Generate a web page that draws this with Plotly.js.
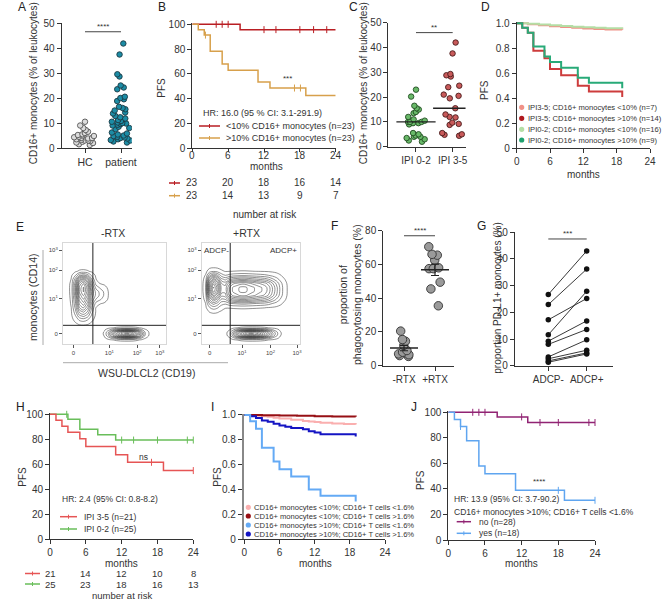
<!DOCTYPE html>
<html>
<head>
<meta charset="utf-8">
<script src="https://cdn.plot.ly/plotly-3.0.1.min.js"></script>
<style>
html, body { margin: 0; padding: 0; background: #ffffff; }
#chart { width: 669px; height: 601px; }
</style>
</head>
<body>
<div id="chart"></div>
<script>
// ================= DATA =================
// Panel A
const aCategories = ['HC', 'patient'];
const aHC = [10.5, 9, 8, 7.2, 6.5, 6, 5.5, 5.2, 5, 4.8, 4.5, 4.3, 4, 4, 3.8, 3.5, 3.3, 3, 3, 2.8, 2.5, 2.2, 2, 1.5, 1.2];
const aPatient = [41.8, 37.4, 29.5, 28.6, 25, 24.2, 23.5, 20.5, 20, 19.5, 18.8, 16.5, 16, 15.5, 15, 14.2, 13.8, 12.8, 12.3, 11.8, 11.2, 10.8, 10.5, 10.2, 10, 9.8, 9.6, 9.3, 9, 8.5, 8, 7.5, 6.2, 5.8, 5.4, 5, 4.8, 4.5, 4.2, 4, 3.8, 3.5, 3.2, 3, 2.6, 2.2];
const aSignif = {text: '****', y: 46.5};
const aYTitle = 'CD16+ monocytes (% of leukocytes)';

// Panel B
const kmTicks = [0, 6, 12, 18, 24];
const bLowTime = [0, 8, 24];
const bLowSurv = [100, 95.7, 95.7];
const bLowCensor = [4, 5, 6, 12, 14, 18, 20.3, 22.5];
const bHighTime = [0, 1, 2, 3, 5, 6, 11, 13, 19, 24];
const bHighSurv = [100, 95.7, 91.3, 78.3, 68, 63, 53.4, 48.6, 42.5, 42.5];
const bHighCensor = [2.2, 17.1, 18.1];
const bRiskLow = [23, 20, 18, 16, 14];
const bRiskHigh = [23, 14, 13, 9, 7];
const bLegend = ['<10% CD16+ monocytes (n=23)', '>10% CD16+ monocytes (n=23)'];
const bHR = 'HR: 16.0 (95 % CI: 3.1-291.9)';
const bSignif = {text: '***', x: 16, y: 56.5};

// Panel C
const cCategories = ['IPI 0-2', 'IPI 3-5'];
const cLow = [23, 20.2, 16.5, 15.5, 15, 14, 13.5, 12, 11, 10.5, 10, 10, 10, 9.5, 9.5, 9, 5.5, 5, 4.5, 4, 4, 3.5, 3, 2.5, 2];
const cHigh = [42, 37.6, 29.3, 28.8, 28.3, 24.6, 24, 21, 20.5, 19.5, 15.5, 13, 12, 11.8, 9.7, 9.2, 8.8, 5.5, 5, 4.8, 4.4];
const cSignif = {text: '**', y: 46};

// Panel D
const dTime1 = [0, 2, 4, 6, 8, 10, 12, 14, 16, 19];
const dHighLowMono = [1, 0.993, 0.985, 0.977, 0.97, 0.964, 0.959, 0.955, 0.951, 0.948];
const dLowLowMono = [1, 0.996, 0.99, 0.984, 0.978, 0.973, 0.968, 0.964, 0.96, 0.957];
const dTime2 = [0, 1, 2, 3, 5, 6, 8, 11, 13, 19];
const dHighHighMono = [1, 0.965, 0.925, 0.78, 0.72, 0.635, 0.585, 0.5, 0.455, 0.41];
const dLowHighMono = [1, 0.965, 0.925, 0.815, 0.735, 0.69, 0.645, 0.565, 0.525, 0.48];
const dLegend = ['IPI3-5; CD16+ monocytes <10% (n=7)', 'IPI3-5; CD16+ monocytes >10% (n=14)', 'IPI0-2; CD16+ monocytes <10% (n=16)', 'IPI0-2; CD16+ monocytes >10% (n=9)'];

// Panel E (contour density profiles; grid in display units 0-100)
const eGridX = [0, 4, 8, 12, 16, 20, 24, 28, 32, 36, 40, 44, 48, 52, 56, 60, 64, 68, 72, 76, 80, 84, 88, 92, 96, 100];
const eGridY = [0, 2, 4, 6, 8, 10, 12, 14, 16, 18, 20, 24, 28, 32, 36, 40, 44, 48, 52, 56, 60, 64, 68, 72, 76, 80, 84, 88, 92, 96, 100];
const eTickText = ['0', '10<sup>1</sup>', '10<sup>2</sup>', '10<sup>3</sup>'];
const eLeftTickX = [10, 45, 72, 94];
const eRightTickX = [8, 41, 70, 97];
const eTickY = [10, 45, 73, 93];
const eGate = {x: 29, y: 18.5};
const eMinusMonoX = {start: 4, vals: [0, 0.05, 0.35, 0.85, 1, 0.75, 0.3, 0.05, 0]};
const eMinusMonoY = {start: 16, vals: [0, 0.02, 0.05, 0.15, 0.3, 0.45, 0.6, 0.72, 0.82, 0.92, 1, 1, 0.9, 0.65, 0.3, 0.05, 0]};
const eMinusTailX = {start: 24, vals: [0.2, 0.6, 1, 0.85, 0.5, 0.15, 0]};
const eMinusTailY = {start: 36, vals: [0, 0.2, 0.7, 1, 0.95, 0.55, 0.15, 0]};
const eMinusTumorX = {start: 36, vals: [0, 0.04, 0.2, 0.45, 0.7, 0.9, 1, 1, 0.9, 0.65, 0.35, 0.1, 0.02, 0]};
const eTumorY = {start: 0, vals: [0, 0.01, 0.06, 0.35, 0.8, 1, 0.85, 0.4, 0.06, 0]};
const ePlusMonoX = {start: 0, vals: [0, 0.1, 0.7, 1, 0.8, 0.4, 0.12, 0.02, 0]};
const ePlusMonoY = {start: 28, vals: [0, 0.05, 0.15, 0.3, 0.5, 0.75, 0.95, 1, 0.9, 0.65, 0.35, 0.1, 0.02, 0]};
const ePlusAdcpX = {start: 16, vals: [0, 0.1, 0.4, 0.75, 0.9, 0.95, 1, 1, 0.95, 0.9, 0.85, 0.8, 0.75, 0.65, 0.5, 0.35, 0.2, 0.08, 0.02, 0, 0]};
const ePlusAdcpY = {start: 32, vals: [0, 0.05, 0.25, 0.6, 0.9, 1, 1, 0.85, 0.5, 0.2, 0.04, 0]};
const ePlusTumorX = {start: 20, vals: [0, 0.01, 0.06, 0.25, 0.5, 0.75, 0.9, 1, 1, 0.95, 0.85, 0.7, 0.5, 0.3, 0.15, 0.04, 0]};
const eTailWeight = 0.2;
const eAdcpWeight = 0.85;

// Panel F
const fCategories = ['-RTX', '+RTX'];
const fMinus = [20.5, 15.5, 14.5, 12, 9, 8, 7, 6.5, 6, 5.5];
const fPlus = [70.5, 66, 65.5, 62.5, 58, 57.5, 57.5, 49.5, 45.5, 35.5];
const fSignif = {text: '****', y: 77};

// Panel G
const gCategories = ['ADCP-', 'ADCP+'];
const gNeg = [26.7, 22.9, 17.2, 11.6, 9.2, 8, 3.3, 2.6, 1.8, 1.3];
const gPos = [43, 36.2, 25.2, 27.9, 16.8, 13.6, 9.7, 5.8, 4.8, 4.4];
const gSignif = {text: '***', y: 47.5};

// Panel H
const hHighTime = [0, 1, 2, 3, 5, 6, 11, 13, 19, 24];
const hHighSurv = [100, 95.2, 90.5, 85.7, 80.4, 74.2, 67.7, 61.6, 55, 55];
const hHighCensor = [17, 24];
const hLowTime = [0, 3, 5, 8, 11, 24];
const hLowSurv = [100, 96, 88, 83.6, 79.4, 79.4];
const hLowCensor = [2.8, 12, 14, 18, 23, 24];
const hRiskHigh = [21, 14, 12, 10, 8];
const hRiskLow = [25, 23, 18, 16, 13];
const hLegend = ['IPI 3-5 (n=21)', 'IPI 0-2 (n=25)'];
const hHR = 'HR: 2.4 (95% CI: 0.8-8.2)';
const hSignif = {text: 'ns', x: 15.7, y: 66};

// Panel I
const iPinkTime = [0, 1, 2, 3, 4, 5, 6, 8, 10, 11, 12, 13, 15, 17, 19];
const iPinkSurv = [1, 0.997, 0.993, 0.99, 0.985, 0.978, 0.972, 0.962, 0.952, 0.948, 0.943, 0.937, 0.932, 0.928, 0.924];
const iRedTime = [0, 3, 6, 9, 12, 15, 19];
const iRedSurv = [1, 0.998, 0.996, 0.993, 0.99, 0.988, 0.986];
const iLightBlueTime = [0, 1, 2, 3, 5, 6, 8, 11, 13, 19];
const iLightBlueSurv = [1, 0.95, 0.89, 0.737, 0.625, 0.563, 0.505, 0.4, 0.35, 0.305];
const iBlueTime = [0, 1, 2, 3, 4, 5, 6, 7, 8, 10, 11, 12, 13, 19];
const iBlueSurv = [1, 0.99, 0.975, 0.955, 0.945, 0.93, 0.915, 0.905, 0.895, 0.885, 0.87, 0.86, 0.845, 0.828];
const iLegend = ['CD16+ monocytes <10%; CD16+ T cells <1.6%', 'CD16+ monocytes <10%; CD16+ T cells >1.6%', 'CD16+ monocytes >10%; CD16+ T cells <1.6%', 'CD16+ monocytes >10%; CD16+ T cells >1.6%'];

// Panel J
const jNoTime = [0, 8, 13, 24];
const jNoSurv = [100, 96.4, 92, 92];
const jNoCensor = [4, 5, 6, 12, 15, 18, 23, 24];
const jYesTime = [0, 1, 2, 3, 5, 6, 11, 19, 24];
const jYesSurv = [100, 94.4, 88.9, 77.8, 58, 51.8, 38.9, 31.1, 31.1];
const jYesCensor = [2, 18, 24];
const jLegend = ['no (n=28)', 'yes (n=18)'];
const jHR = 'HR: 13.9 (95% CI: 3.7-90.2)';
const jGroup = 'CD16+ monocytes >10%; CD16+ T cells <1.6%';
const jSignif = {text: '****', x: 14.9, y: 45.7};

// ================= HELPERS =================
const W = 669, H = 601;
const FONT = '"Liberation Sans", Arial, sans-serif';
const TXT = '#333';
const AX = '#333';
const px = v => v / W;
const py = v => 1 - v / H;
const esc = s => s.replace(/</g, '&lt;').replace(/>/g, '&gt;');
const xa = n => n === 1 ? 'x' : 'x' + n;
const ya = n => n === 1 ? 'y' : 'y' + n;
function xdomFit(pa, va, pb, vb, r0, r1) {
  const k = (pb - pa) / (vb - va);
  return [(pa + (r0 - va) * k) / W, (pa + (r1 - va) * k) / W];
}
function ydomFit(pa, va, pb, vb, r0, r1) {
  const k = (pb - pa) / (vb - va);
  return [1 - (pa + (r0 - va) * k) / H, 1 - (pa + (r1 - va) * k) / H];
}
function survAt(t, s, x) { let v = s[0]; for (let i = 0; i < t.length; i++) if (t[i] <= x) v = s[i]; return v; }
function median(a) { const s = a.slice().sort((p, q) => p - q); const m = Math.floor(s.length / 2); return s.length % 2 ? s[m] : (s[m - 1] + s[m]) / 2; }
function mean(a) { return a.reduce((p, q) => p + q, 0) / a.length; }
function sem(a) { const m = mean(a); return Math.sqrt(a.reduce((p, q) => p + (q - m) * (q - m), 0) / (a.length - 1)) / Math.sqrt(a.length); }
function prof(grid, spec) { const out = grid.map(() => 0); const k = grid.indexOf(spec.start); spec.vals.forEach((v, i) => { if (k + i < out.length) out[k + i] = v; }); return out; }
function density(blobs) {
  const bl = blobs.map(b => ({amp: b.amp, px: prof(eGridX, b.x), py: prof(eGridY, b.y)}));
  return eGridY.map((_, j) => eGridX.map((_, i) => bl.reduce((s, b) => s + b.amp * b.px[i] * b.py[j], 0)));
}

const traces = [];
function swarm(n, vals, pos, color, edge, size, width) {
  traces.push({type: 'box', y: vals, x0: pos, xaxis: xa(n), yaxis: ya(n), boxpoints: 'all', jitter: 1, pointpos: 0,
    width: width, fillcolor: 'rgba(0,0,0,0)', line: {color: 'rgba(0,0,0,0)', width: 0}, whiskerwidth: 0,
    marker: {color: color, size: size, line: {color: edge, width: 0.9}}, hoverinfo: 'y', showlegend: false});
}
function km(n, t, s, color, width) {
  traces.push({type: 'scatter', mode: 'lines', x: t, y: s, xaxis: xa(n), yaxis: ya(n), line: {shape: 'hv', color: color, width: width}, hoverinfo: 'skip', showlegend: false});
}
function censor(n, cens, t, s, color) {
  traces.push({type: 'scatter', mode: 'markers', x: cens, y: cens.map(c => survAt(t, s, c)), xaxis: xa(n), yaxis: ya(n), cliponaxis: false,
    marker: {symbol: 'line-ns', size: 5, color: color, line: {color: color, width: 1}}, hoverinfo: 'skip', showlegend: false});
}

const ann = [];
const shapes = [];
function note(text, x, y, o) {
  o = o || {};
  ann.push({text: text, x: px(x), y: py(y), xref: 'paper', yref: 'paper', showarrow: false,
    xanchor: o.anchor || 'center', yanchor: 'middle', textangle: o.angle || 0, borderpad: 0,
    font: {family: FONT, size: o.size || 10, color: o.color || TXT}});
}
function dataNote(n, text, x, y, size, yanchor) {
  ann.push({text: text, x: x, y: y, xref: xa(n), yref: ya(n), showarrow: false, xanchor: 'center', yanchor: yanchor || 'middle', borderpad: 0,
    font: {family: FONT, size: size, color: TXT}});
}
function rowNote(n, text, x, yPix, size) {
  ann.push({text: text, x: x, y: py(yPix), xref: xa(n), yref: 'paper', showarrow: false, xanchor: 'center', yanchor: 'middle', borderpad: 0,
    font: {family: FONT, size: size, color: TXT}});
}
function legLine(x0, x1, y, color, tick) {
  shapes.push({type: 'line', xref: 'paper', yref: 'paper', x0: px(x0), x1: px(x1), y0: py(y), y1: py(y), line: {color: color, width: 1.5}});
  if (tick) shapes.push({type: 'line', xref: 'paper', yref: 'paper', x0: px((x0 + x1) / 2), x1: px((x0 + x1) / 2), y0: py(y - 2), y1: py(y + 2), line: {color: color, width: 1}});
}
function legDot(cx, cy, r, color) {
  shapes.push({type: 'circle', xref: 'paper', yref: 'paper', x0: px(cx - r), x1: px(cx + r), y0: py(cy + r), y1: py(cy - r), fillcolor: color, line: {width: 0}});
}
function signifBar(n, sig, x0, x1) {
  shapes.push({type: 'line', xref: xa(n), yref: ya(n), x0: x0, x1: x1, y0: sig.y, y1: sig.y, line: {color: '#444', width: 1}});
  dataNote(n, sig.text, (x0 + x1) / 2, sig.y, 8, 'bottom');
}

// ================= TRACES =================
// A
swarm(1, aHC, 0, '#dcdcdc', '#555', 5.5, 0.65);
swarm(1, aPatient, 1, 'rgb(28,140,165)', '#1c3a44', 5.5, 0.68);
signifBar(1, aSignif, 0, 1);

// B
const bRed = 'rgb(185,30,35)', bGold = 'rgb(215,160,75)';
km(2, bLowTime, bLowSurv, bRed, 1.5);
km(2, bHighTime, bHighSurv, bGold, 1.5);
censor(2, bLowCensor, bLowTime, bLowSurv, bRed);
censor(2, bHighCensor, bHighTime, bHighSurv, bGold);
dataNote(2, bSignif.text, bSignif.x, bSignif.y, 8);

// C
swarm(3, cLow, 0, 'rgb(105,185,105)', '#234d23', 5.5, 0.63);
swarm(3, cHigh, 1, 'rgb(200,90,90)', '#4a1c1c', 5.5, 0.7);
traces.push({type: 'scatter', mode: 'markers', x: [0, 1], y: [median(cLow), median(cHigh)], xaxis: 'x3', yaxis: 'y3',
  marker: {symbol: 'line-ew', size: 28, color: '#222', line: {color: '#222', width: 1.3}}, hoverinfo: 'skip', showlegend: false});
signifBar(3, cSignif, 0, 1);

// D
const dPink = 'rgb(240,145,135)', dDarkRed = 'rgb(175,25,30)', dLightGreen = 'rgb(180,222,165)', dGreen = 'rgb(30,160,110)';
km(4, dTime1, dHighLowMono, dPink, 2);
km(4, dTime1, dLowLowMono, dLightGreen, 2);
km(4, dTime2, dHighHighMono, 'rgb(205,60,60)', 2);
km(4, dTime2, dLowHighMono, 'rgb(40,170,120)', 2);

// E contours
const eLineStyle = {color: '#222', width: 0.5, smoothing: 1};
const eContours = {coloring: 'none', start: 0.03, end: 2, size: 0.08};
traces.push({type: 'contour', x: eGridX, y: eGridY, xaxis: 'x5', yaxis: 'y5', showscale: false, hoverinfo: 'skip',
  z: density([{amp: 1, x: eMinusMonoX, y: eMinusMonoY}, {amp: eTailWeight, x: eMinusTailX, y: eMinusTailY}, {amp: 1, x: eMinusTumorX, y: eTumorY}]),
  contours: eContours, line: eLineStyle});
traces.push({type: 'contour', x: eGridX, y: eGridY, xaxis: 'x6', yaxis: 'y6', showscale: false, hoverinfo: 'skip',
  z: density([{amp: 1, x: ePlusMonoX, y: ePlusMonoY}, {amp: eAdcpWeight, x: ePlusAdcpX, y: ePlusAdcpY}, {amp: 1, x: ePlusTumorX, y: eTumorY}]),
  contours: eContours, line: eLineStyle});
[5, 6].forEach(n => {
  shapes.push({type: 'line', xref: xa(n), yref: ya(n), x0: eGate.x, x1: eGate.x, y0: 0, y1: 100, line: {color: '#222', width: 1}});
  shapes.push({type: 'line', xref: xa(n), yref: ya(n), x0: 0, x1: 100, y0: eGate.y, y1: eGate.y, line: {color: '#222', width: 1}});
});

// F
swarm(7, fMinus, 0, '#9a9a9a', '#333', 8.5, 0.55);
swarm(7, fPlus, 1, '#9a9a9a', '#333', 8.5, 0.6);
traces.push({type: 'scatter', mode: 'markers', x: [0, 1], y: [mean(fMinus), mean(fPlus)], xaxis: 'x7', yaxis: 'y7',
  error_y: {type: 'data', array: [sem(fMinus), sem(fPlus)], visible: true, color: '#222', thickness: 1.2, width: 4},
  marker: {symbol: 'line-ew', size: 20, color: '#222', line: {color: '#222', width: 1.5}}, hoverinfo: 'skip', showlegend: false});
signifBar(7, fSignif, 0, 1);

// G
gNeg.forEach((v, i) => {
  traces.push({type: 'scatter', mode: 'lines+markers', x: [0, 1], y: [v, gPos[i]], xaxis: 'x8', yaxis: 'y8', cliponaxis: false,
    line: {color: '#222', width: 0.9}, marker: {color: '#111', size: 5.5}, hoverinfo: 'skip', showlegend: false});
});
signifBar(8, gSignif, 0, 1);

// H
const hRed = 'rgb(230,85,85)', hGreen = 'rgb(105,190,90)';
km(9, hLowTime, hLowSurv, hGreen, 1.5);
km(9, hHighTime, hHighSurv, hRed, 1.5);
censor(9, hLowCensor, hLowTime, hLowSurv, hGreen);
censor(9, hHighCensor, hHighTime, hHighSurv, hRed);
dataNote(9, hSignif.text, hSignif.x, hSignif.y, 8.5);

// I
const iPink = 'rgb(250,175,175)', iRed = 'rgb(150,15,20)', iLightBlue = 'rgb(100,170,245)', iBlue = 'rgb(20,20,195)';
km(10, iPinkTime, iPinkSurv, iPink, 2);
km(10, iRedTime, iRedSurv, iRed, 2);
km(10, iBlueTime, iBlueSurv, iBlue, 2);
km(10, iLightBlueTime, iLightBlueSurv, iLightBlue, 2);

// J
const jPurple = 'rgb(145,35,115)', jBlue = 'rgb(95,165,240)';
km(11, jNoTime, jNoSurv, jPurple, 1.5);
km(11, jYesTime, jYesSurv, jBlue, 1.5);
censor(11, jNoCensor, jNoTime, jNoSurv, jPurple);
censor(11, jYesCensor, jYesTime, jYesSurv, jBlue);
dataNote(11, jSignif.text, jSignif.x, jSignif.y, 8);

// ================= AXES =================
const tickFont = {family: FONT, size: 10, color: TXT};
function axis(domain, range, extra) {
  return Object.assign({domain: domain, range: range, showline: true, linecolor: AX, linewidth: 1, ticks: 'outside', ticklen: 4,
    tickwidth: 1, tickcolor: AX, showgrid: false, zeroline: false, tickfont: tickFont, fixedrange: true}, extra || {});
}
const layout = {
  width: W, height: H, margin: {l: 0, r: 0, t: 0, b: 0}, paper_bgcolor: '#ffffff', plot_bgcolor: 'rgba(0,0,0,0)',
  showlegend: false, font: {family: FONT, color: TXT},
  // A
  xaxis: axis(xdomFit(85, 0, 121, 1, -0.65, 1.3), [-0.65, 1.3], {anchor: 'y', tickvals: [0, 1], ticktext: aCategories, tickfont: {family: FONT, size: 10.5, color: TXT}}),
  yaxis: axis(ydomFit(148, 0, 23, 50, 0, 50), [0, 50], {anchor: 'x', dtick: 10}),
  // B (tick labels drawn tight under the axis, as in the reference)
  xaxis2: axis(xdomFit(192.3, 0, 335.7, 24, 0, 24), [0, 24], {anchor: 'y2', tickvals: kmTicks, ticklen: 3, showticklabels: false}),
  yaxis2: axis(ydomFit(148.3, 0, 24.3, 100, 0, 101), [0, 101], {anchor: 'x2', tickvals: [0, 20, 40, 60, 80, 100]}),
  // C
  xaxis3: axis(xdomFit(416, 0, 452.7, 1, -0.75, 1.35), [-0.75, 1.35], {anchor: 'y3', tickvals: [0, 1], ticktext: cCategories}),
  yaxis3: axis(ydomFit(146.7, 0, 22.7, 50, 0, 50), [0, 50], {anchor: 'x3', dtick: 10}),
  // D
  xaxis4: axis(xdomFit(516.7, 0, 650, 24, 0, 24), [0, 24], {anchor: 'y4', tickvals: kmTicks}),
  yaxis4: axis(ydomFit(148.3, 0, 23.3, 1, 0, 1.012), [0, 1.012], {anchor: 'x4', tickvals: [0, 0.2, 0.4, 0.6, 0.8, 1], ticktext: ['0', '0.2', '0.4', '0.6', '0.8', '1.0']}),
  // F
  xaxis7: axis(xdomFit(404, 0, 435, 1, -0.67, 1.6), [-0.67, 1.6], {anchor: 'y7', tickvals: [0, 1], ticktext: fCategories}),
  yaxis7: axis(ydomFit(365.7, 0, 230.7, 80, 0, 80), [0, 80], {anchor: 'x7', dtick: 20}),
  // G
  xaxis8: axis(xdomFit(548.3, 0, 586.7, 1, -0.87, 1.68), [-0.87, 1.68], {anchor: 'y8', tickvals: [0, 1], ticktext: gCategories}),
  yaxis8: axis(ydomFit(365.7, 0, 232.3, 50, 0, 50), [0, 50], {anchor: 'x8', dtick: 10}),
  // H
  xaxis9: axis(xdomFit(50, 0, 193.3, 24, 0, 24), [0, 24], {anchor: 'y9', tickvals: kmTicks}),
  yaxis9: axis(ydomFit(539.3, 0, 414.3, 100, 0, 101), [0, 101], {anchor: 'x9', tickvals: [0, 20, 40, 60, 80, 100]}),
  // I
  xaxis10: axis(xdomFit(244.3, 0, 385, 24, 0, 24), [0, 24], {anchor: 'y10', tickvals: kmTicks}),
  yaxis10: axis(ydomFit(539.3, 0, 415, 1, 0, 1.012), [0, 1.012], {anchor: 'x10', tickvals: [0, 0.2, 0.4, 0.6, 0.8, 1], ticktext: ['0', '0.2', '0.4', '0.6', '0.8', '1.0'], linecolor: '#888', linewidth: 2.5}),
  // J
  xaxis11: axis(xdomFit(448.3, 0, 595, 24, 0, 24), [0, 24], {anchor: 'y11', tickvals: kmTicks}),
  yaxis11: axis(ydomFit(540, 0, 412.3, 100, 0, 101), [0, 101], {anchor: 'x11', tickvals: [0, 20, 40, 60, 80, 100]}),
  annotations: ann,
  shapes: shapes
};
const eFont = {family: FONT, size: 6, color: '#444'};
function eAxis(domain, anchor, ticks) {
  return {domain: domain, anchor: anchor, range: [0, 100], tickvals: ticks, ticktext: eTickText, showline: true, linecolor: '#d8d8d8', mirror: true,
    ticks: 'outside', ticklen: 3, tickcolor: '#555', tickfont: eFont, showgrid: false, zeroline: false, fixedrange: true};
}
layout.xaxis5 = eAxis([63 / W, 166 / W], 'y5', eLeftTickX);
layout.yaxis5 = eAxis([1 - 344 / H, 1 - 243 / H], 'x5', eTickY);
layout.xaxis6 = eAxis([201.7 / W, 300 / W], 'y6', eRightTickX);
layout.yaxis6 = eAxis([1 - 344 / H, 1 - 243 / H], 'x6', eTickY);

// ================= TEXT =================
// panel letters
[['A', 22, 7], ['B', 162, 7], ['C', 353, 7], ['D', 485, 7], ['E', 20, 227], ['F', 334, 226], ['G', 481, 226], ['H', 20, 407], ['I', 212, 407], ['J', 414, 407]]
  .forEach(l => note(l[0], l[1], l[2], {size: 12, color: '#222'}));
// axis titles
note(aYTitle, 33.3, 83, {angle: -90});
note('PFS', 161.7, 88, {angle: -90});
kmTicks.forEach(t => rowNote(2, String(t), t, 155, 10));
note('months', 266.7, 166);
note('number at risk', 265, 214);
note(aYTitle, 363.3, 83, {angle: -90});
note('PFS', 485, 90, {angle: -90});
note('months', 583, 175);
note('monocytes (CD14)', 33, 297, {angle: -90, size: 10.5});
note('WSU-DLCL2 (CD19)', 146.7, 373, {size: 10.5});
note('-RTX', 113, 233, {size: 10.5});
note('+RTX', 246.7, 233, {size: 10.5});
note('ADCP-', 203, 250, {anchor: 'left', size: 8});
note('ADCP+', 283, 250, {size: 8});
note('proportion of<br>phagocytosing monocytes (%)', 350, 295, {angle: -90, size: 10.5});
note('proportion PD-L1+ monocytes (%)', 496.7, 298, {angle: -90});
note('PFS', 21.7, 477, {angle: -90});
note('months', 121.7, 563.5);
note('number at risk', 121.7, 595.5, {size: 9.5});
note('PFS', 216.7, 477, {angle: -90});
note('months', 315, 563);
note('PFS', 420, 480, {angle: -90});
note('months', 521, 563);

// B legend + risk table
note(bHR, 202, 113, {anchor: 'left', size: 9});
legLine(199, 220, 126, bRed, true); note(esc(bLegend[0]), 225, 126, {anchor: 'left', size: 9});
legLine(199, 220, 138, bGold, true); note(esc(bLegend[1]), 225, 138, {anchor: 'left', size: 9});
legLine(169, 180, 183, bRed, true);
legLine(169, 180, 195.7, bGold, true);
kmTicks.forEach((t, i) => {
  rowNote(2, String(bRiskLow[i]), t, 183, 10);
  rowNote(2, String(bRiskHigh[i]), t, 195.7, 10);
});

// D legend
const dColors = [dPink, dDarkRed, dLightGreen, dGreen];
[107.3, 118.3, 129.3, 140].forEach((y, i) => { legDot(521.7, y, 2.6, dColors[i]); note(esc(dLegend[i]), 526.5, y, {anchor: 'left', size: 7.6}); });

// H legend + risk table
note(hHR, 61, 499, {anchor: 'left', size: 8.5});
legLine(60, 77, 516.7, hRed, true); note(hLegend[0], 83, 516.7, {anchor: 'left', size: 8.5});
legLine(60, 77, 529, hGreen, true); note(hLegend[1], 83, 529, {anchor: 'left', size: 8.5});
legLine(25, 40, 573.5, hRed, true);
legLine(25, 40, 584, hGreen, true);
kmTicks.forEach((t, i) => {
  rowNote(9, String(hRiskHigh[i]), t, 573.5, 9.5);
  rowNote(9, String(hRiskLow[i]), t, 584, 9.5);
});

// I legend
const iColors = [iPink, iRed, iLightBlue, iBlue];
[507.3, 516, 525, 534].forEach((y, i) => { legDot(248.3, y, 2.6, iColors[i]); note(esc(iLegend[i]), 253, y, {anchor: 'left', size: 7.6}); });

// J legend
note(jHR, 453.3, 499.3, {anchor: 'left', size: 8.5});
note(esc(jGroup), 453.3, 511.7, {anchor: 'left', size: 8.5});
legLine(456.7, 471, 521.7, jPurple, true); note(jLegend[0], 478.3, 521.7, {anchor: 'left', size: 8.5});
legLine(456.7, 471, 533.3, jBlue, true); note(jLegend[1], 478.3, 533.3, {anchor: 'left', size: 8.5});

// decorative gradient bars of panel E
shapes.push({type: 'line', xref: 'paper', yref: 'paper', x0: px(43), x1: px(43), y0: py(250), y1: py(345), line: {color: '#aaa', width: 1}});
shapes.push({type: 'line', xref: 'paper', yref: 'paper', x0: px(63), x1: px(228), y0: py(362.7), y1: py(362.7), line: {color: '#aaa', width: 1}});

Plotly.newPlot('chart', traces, layout, {staticPlot: true, displayModeBar: false});
</script>
</body>
</html>
